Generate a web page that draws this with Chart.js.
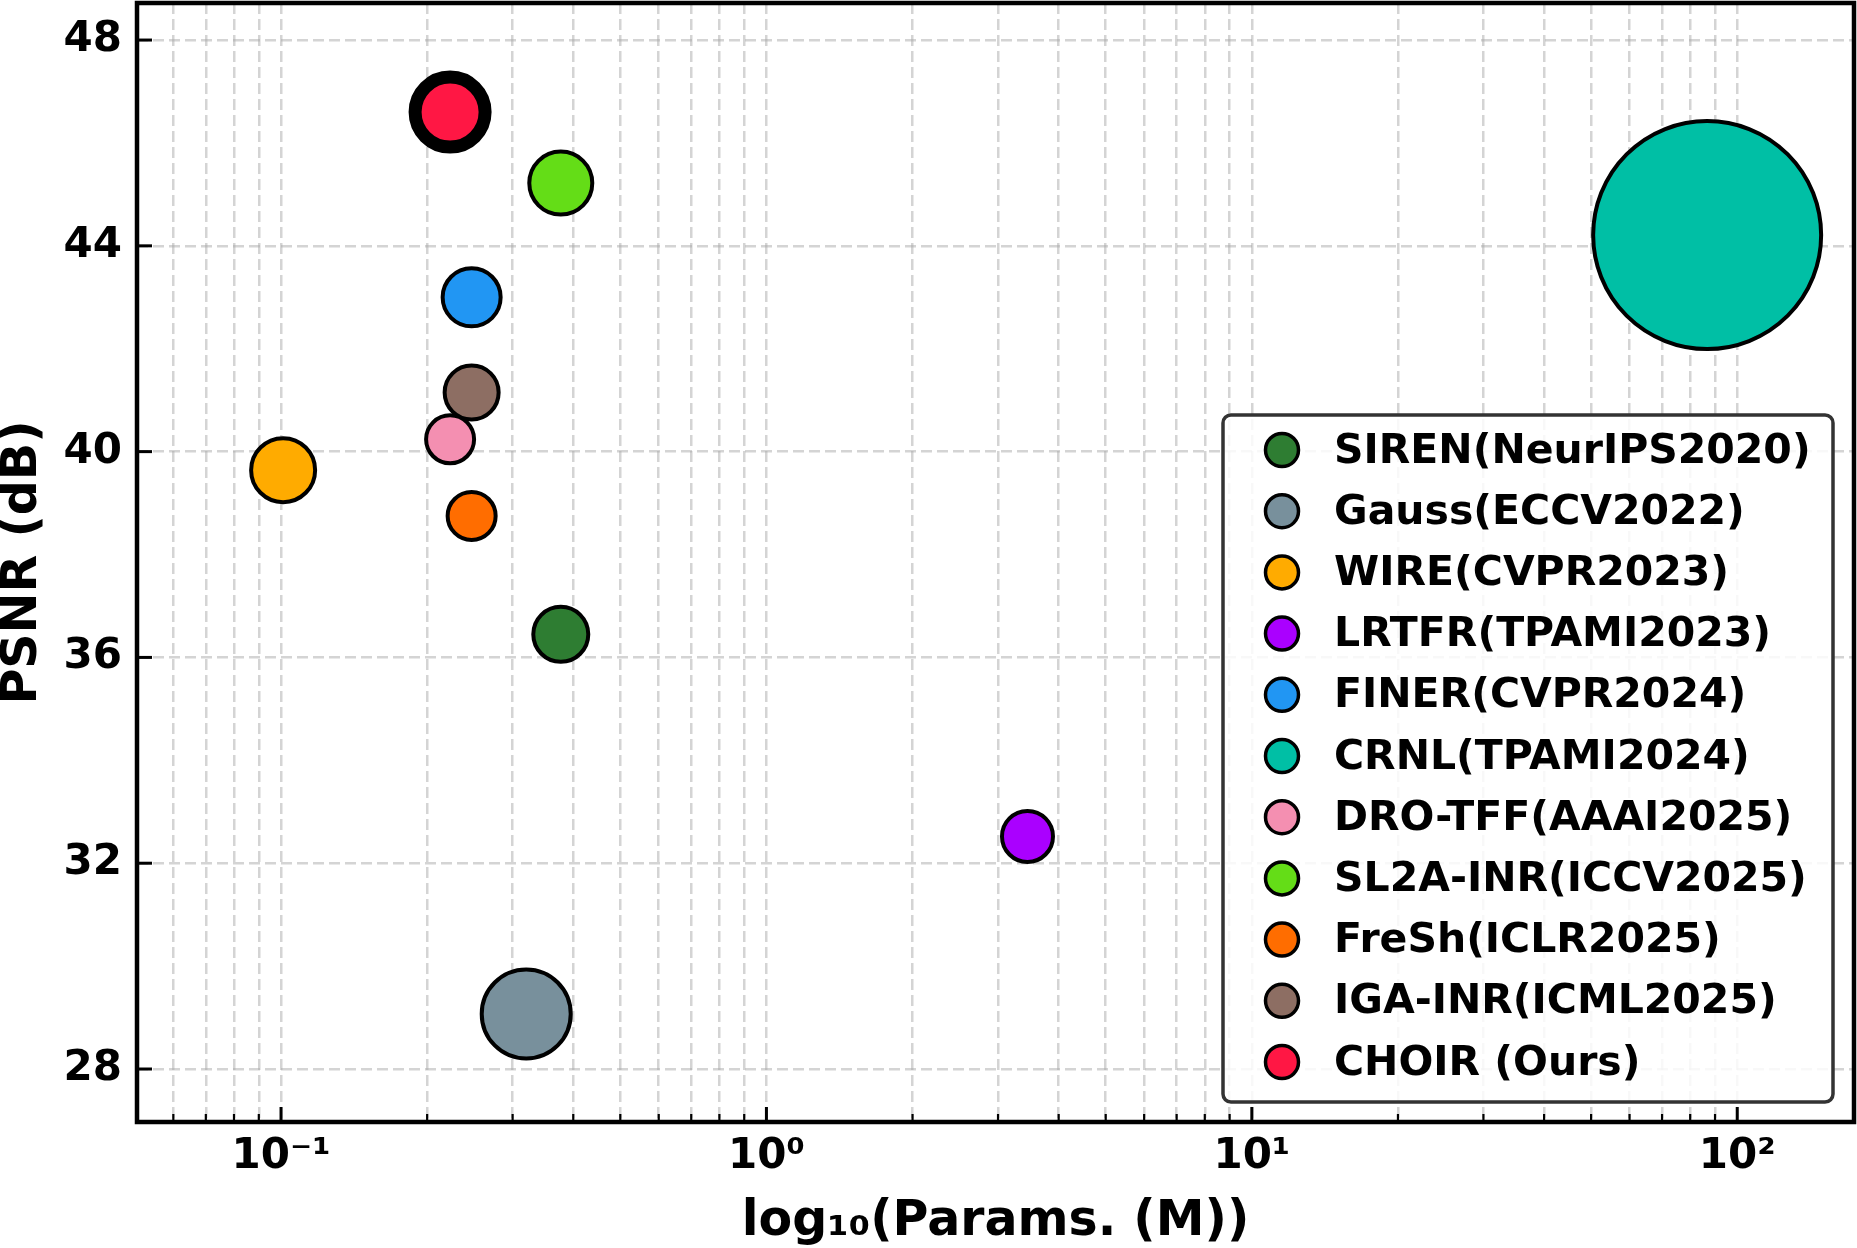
<!DOCTYPE html>
<html>
<head>
<meta charset="utf-8">
<script src="https://cdn.jsdelivr.net/npm/chart.js@4.4.1/dist/chart.umd.min.js"></script>
<style>
  html, body { margin: 0; padding: 0; background: #fff; }
  canvas { display: block; }
</style>
</head>
<body>
<canvas id="myChart" width="1857" height="1248"></canvas>
<script>
// data
const methods = ['SIREN(NeurIPS2020)', 'Gauss(ECCV2022)', 'WIRE(CVPR2023)', 'LRTFR(TPAMI2023)',
    'FINER(CVPR2024)', 'CRNL(TPAMI2024)', 'DRO-TFF(AAAI2025)', 'SL2A-INR(ICCV2025)',
    'FreSh(ICLR2025)', 'IGA-INR(ICML2025)', 'CHOIR (Ours)'];
const params = [0.377, 0.320, 0.101, 3.45, 0.247, 86.7, 0.223, 0.377, 0.247, 0.247, 0.223]; // M
const psnr = [36.45, 29.07, 39.64, 32.52, 43.0, 44.21, 40.24, 45.22, 38.75, 41.15, 46.6]; // dB

const xTickValues = [0.1, 1, 10, 100];
const xTickLabels = ['10\u207B\u00B9', '10\u2070', '10\u00B9', '10\u00B2'];
const yTickValues = [28, 32, 36, 40, 44, 48];

// styles
const colors = ['#2e7d32', '#78909c', '#ffab00', '#aa00ff', '#2196f3', '#00bfa5',
    '#f48fb1', '#64dd17', '#ff6d00', '#8d6e63', '#ff1744'];
const markerRadius = [27.5, 44.5, 32, 25.5, 29, 114, 24, 31.5, 24, 27, 35];
const markerBorder = [4, 4, 4, 4, 4, 4, 4, 4, 4, 4, 13];

const FONT = "'DejaVu Sans', 'Liberation Sans', sans-serif";

// minor tick positions for the log axis (2..9 in every decade)
const xMinorValues = [];
for (let d = -2; d <= 2; d++) {
    for (let m = 2; m <= 9; m++) {
        const v = m * Math.pow(10, d);
        if (v > 0.0505 && v < 174) xMinorValues.push(v);
    }
}
const xAllTicks = xMinorValues.concat(xTickValues).sort((a, b) => a - b);

const datasets = methods.map((name, i) => ({
    label: name,
    data: [{ x: params[i], y: psnr[i] }],
    backgroundColor: colors[i],
    borderColor: '#000',
    borderWidth: markerBorder[i],
    pointRadius: markerRadius[i],
    pointHoverRadius: markerRadius[i]
}));

const gridColor = 'rgba(170,170,170,0.5)';

// spines, inward ticks and the legend box
const framePlugin = {
    id: 'frame',
    afterDraw(chart) {
        const ctx = chart.ctx;
        const a = chart.chartArea;
        const xs = chart.scales.x;
        const ys = chart.scales.y;
        ctx.save();

        // ticks pointing inside
        ctx.strokeStyle = '#000';
        ctx.lineCap = 'butt';
        ctx.lineWidth = 3;
        yTickValues.forEach(v => {
            const py = ys.getPixelForValue(v);
            ctx.beginPath(); ctx.moveTo(a.left, py); ctx.lineTo(a.left + 15, py); ctx.stroke();
        });
        xTickValues.forEach(v => {
            const px = xs.getPixelForValue(v);
            ctx.beginPath(); ctx.moveTo(px, a.bottom); ctx.lineTo(px, a.bottom - 15); ctx.stroke();
        });
        ctx.lineWidth = 2.2;
        xMinorValues.forEach(v => {
            const px = xs.getPixelForValue(v);
            ctx.beginPath(); ctx.moveTo(px, a.bottom); ctx.lineTo(px, a.bottom - 8); ctx.stroke();
        });

        // spines
        ctx.lineWidth = 4.5;
        ctx.strokeRect(a.left, a.top, a.right - a.left, a.bottom - a.top);

        // legend
        const box = { x: 1223, y: 415, w: 610, h: 687 };
        ctx.beginPath();
        ctx.roundRect(box.x, box.y, box.w, box.h, 8);
        ctx.fillStyle = 'rgba(255,255,255,0.85)';
        ctx.fill();
        ctx.lineWidth = 3.5;
        ctx.strokeStyle = '#333';
        ctx.stroke();

        ctx.font = 'bold 41px ' + FONT;
        ctx.textAlign = 'left';
        ctx.textBaseline = 'middle';
        methods.forEach((name, i) => {
            const cy = 450 + i * 61.2;
            ctx.beginPath();
            ctx.arc(1282, cy, 16.5, 0, Math.PI * 2);
            ctx.fillStyle = colors[i];
            ctx.fill();
            ctx.lineWidth = 3.5;
            ctx.strokeStyle = '#000';
            ctx.stroke();
            ctx.fillStyle = '#000';
            ctx.fillText(name, 1334, cy + 2);
        });
        ctx.restore();
    }
};

const ctx = document.getElementById('myChart').getContext('2d');
window.myChart = new Chart(ctx, {
    type: 'scatter',
    data: { datasets: datasets },
    options: {
        responsive: false,
        animation: false,
        devicePixelRatio: 1,
        layout: { autoPadding: false, padding: { top: 3, right: 3, left: 0, bottom: 0 } },
        plugins: { legend: { display: false }, tooltip: { enabled: false } },
        scales: {
            x: {
                type: 'logarithmic',
                min: 0.0505,
                max: 174,
                afterBuildTicks: scale => {
                    scale.ticks = xAllTicks.map(v => ({ value: v }));
                },
                afterFit: scale => {
                    scale.height = 126;
                    scale.paddingLeft = 0;
                    scale.paddingRight = 0;
                },
                ticks: {
                    autoSkip: false,
                    maxRotation: 0,
                    padding: 10,
                    color: '#000',
                    font: { family: FONT, size: 42, weight: 'bold' },
                    callback: value => {
                        const k = xTickValues.findIndex(t => Math.abs(t - value) < t * 1e-6);
                        return k >= 0 ? xTickLabels[k] : '';
                    }
                },
                grid: { color: gridColor, lineWidth: 2.5, drawTicks: false },
                border: { display: false, dash: [11, 5] },
                title: {
                    display: true,
                    text: 'log\u2081\u2080(Params. (M))',
                    color: '#000',
                    padding: 0,
                    font: { family: FONT, size: 49, weight: 'bold', lineHeight: 1.06 }
                }
            },
            y: {
                min: 26.97,
                max: 48.72,
                afterBuildTicks: scale => {
                    scale.ticks = yTickValues.map(v => ({ value: v }));
                },
                afterFit: scale => {
                    scale.width = 137;
                    scale.paddingTop = 0;
                    scale.paddingBottom = 0;
                },
                ticks: {
                    padding: 15,
                    color: '#000',
                    font: { family: FONT, size: 42, weight: 'bold' }
                },
                grid: { color: gridColor, lineWidth: 2.5, drawTicks: false },
                border: { display: false, dash: [11, 5] },
                title: {
                    display: true,
                    text: 'PSNR (dB)',
                    color: '#000',
                    padding: 0,
                    font: { family: FONT, size: 49, weight: 'bold', lineHeight: 0.95 }
                }
            }
        }
    },
    plugins: [framePlugin]
});
</script>
</body>
</html>
